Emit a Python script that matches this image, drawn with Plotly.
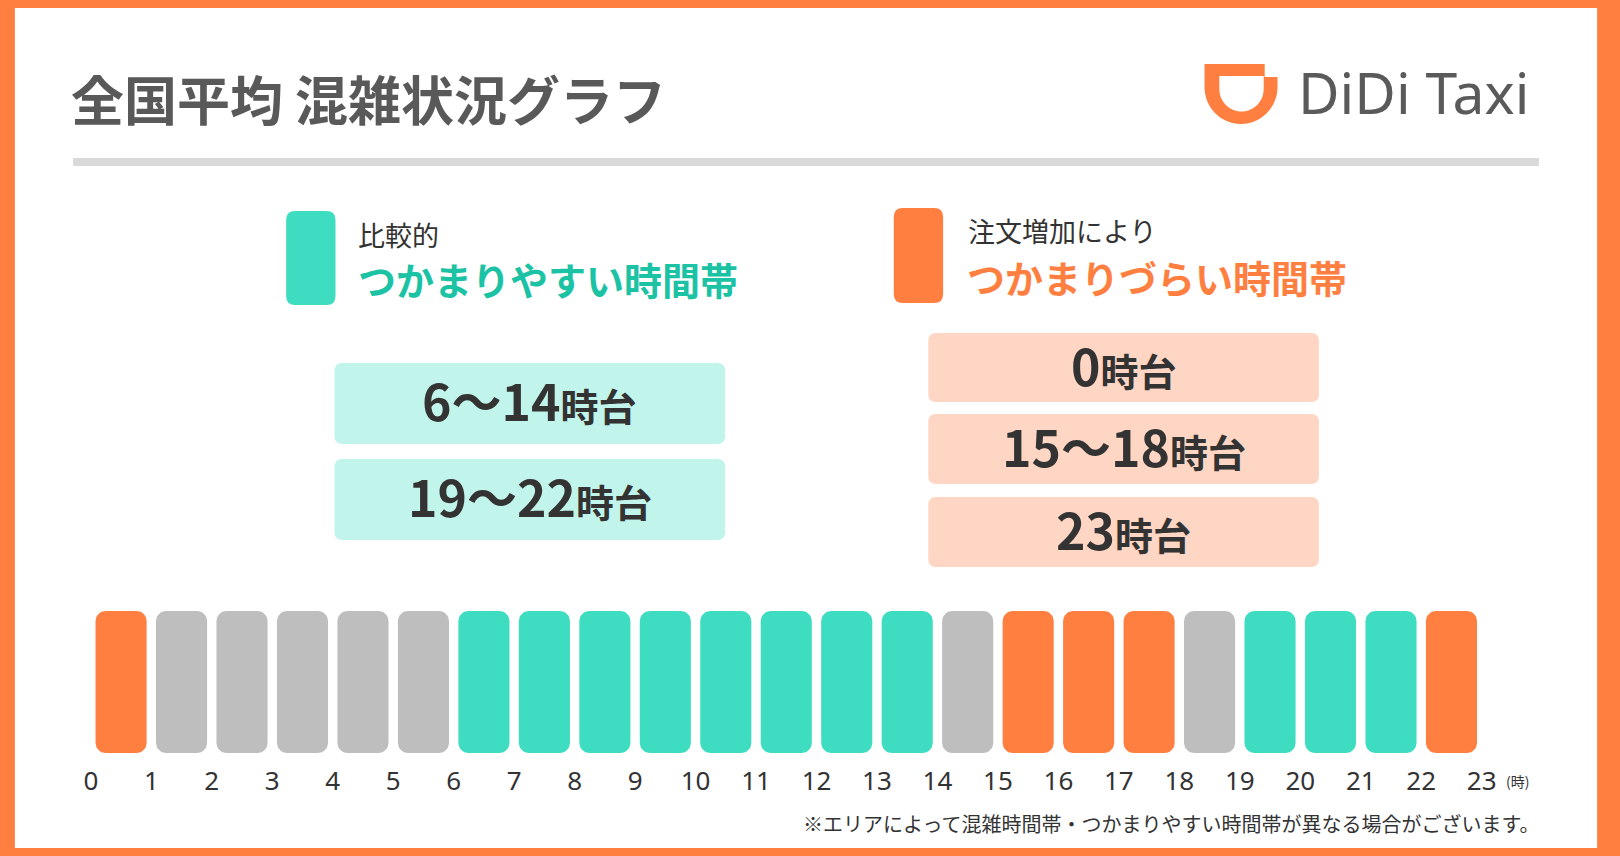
import math
import plotly.graph_objects as go

# ---------------- data ----------------
hour_labels = ["0", "1", "2", "3", "4", "5", "6", "7", "8", "9", "10", "11",
               "12", "13", "14", "15", "16", "17", "18", "19", "20", "21", "22", "23"]
slot_start = [0, 1, 2, 3, 4, 5, 6, 7, 8, 9, 10, 11, 12, 13, 14, 15, 16, 17, 18, 19, 20, 21, 22]
slot_status = ["busy", "idle", "idle", "idle", "idle", "idle",
               "easy", "easy", "easy", "easy", "easy", "easy", "easy", "easy",
               "idle", "busy", "busy", "busy", "idle", "easy", "easy", "easy", "busy"]
slot_level = [1, 1, 1, 1, 1, 1, 1, 1, 1, 1, 1, 1, 1, 1, 1, 1, 1, 1, 1, 1, 1, 1, 1]

easy_ranges = ["6〜14", "19〜22"]
busy_ranges = ["0", "15〜18", "23"]
range_suffix = "時台"

title_text = "全国平均 混雑状況グラフ"
easy_caption = ["比較的", "つかまりやすい時間帯"]
busy_caption = ["注文増加により", "つかまりづらい時間帯"]
unit_text = "(時)"
note_text = "※エリアによって混雑時間帯・つかまりやすい時間帯が異なる場合がございます。"
brand_text = "DiDi Taxi"

# ---------------- styles ----------------
W, H = 1620, 856
ORANGE = "#FF7F41"
GREEN = "#3EDDC1"
GREEN_TEXT = "#1BC2A4"
GRAY = "#BEBEBE"
LIGHT_GREEN = "#C1F4EA"
LIGHT_ORANGE = "#FFD6C3"
DARK = "#333333"
TITLE_GRAY = "#595959"
status_color = {"busy": ORANGE, "idle": GRAY, "easy": GREEN}
JP = "Noto Sans CJK JP"

# plot area (pixels) and bar geometry
AX_L, AX_R = 85, 1495
AX_T, AX_B = 611, 753
BAR_W = 0.845
BAR_R = 10  # corner radius, px


def X(px):
    return px / W


def Y(py):
    return 1 - py / H


def rrect(x0, y0, x1, y1, r):
    pts = [
        f"M{X(x0 + r)},{Y(y0)}",
        f"L{X(x1 - r)},{Y(y0)}",
        f"Q{X(x1)},{Y(y0)} {X(x1)},{Y(y0 + r)}",
        f"L{X(x1)},{Y(y1 - r)}",
        f"Q{X(x1)},{Y(y1)} {X(x1 - r)},{Y(y1)}",
        f"L{X(x0 + r)},{Y(y1)}",
        f"Q{X(x0)},{Y(y1)} {X(x0)},{Y(y1 - r)}",
        f"L{X(x0)},{Y(y0 + r)}",
        f"Q{X(x0)},{Y(y0)} {X(x0 + r)},{Y(y0)}",
        "Z",
    ]
    return " ".join(pts)


def pshape(path, color, layer="below"):
    return dict(type="path", xref="paper", yref="paper", path=path,
                fillcolor=color, line=dict(width=0), layer=layer)


K = 0.5523

shapes = []
# white card inside the orange frame
shapes.append(dict(type="rect", xref="paper", yref="paper", x0=X(8), x1=X(1612), y0=Y(848), y1=Y(8),
                   fillcolor="white", line=dict(width=0), layer="below"))
# divider
shapes.append(dict(type="rect", xref="paper", yref="paper", x0=X(67), x1=X(1553), y0=Y(166), y1=Y(158),
                   fillcolor="#D9D9D9", line=dict(width=0), layer="below"))
# legend swatches
shapes.append(pshape(rrect(283, 211, 333, 305, 9), GREEN))
shapes.append(pshape(rrect(899, 208, 949, 303, 9), ORANGE))
# range boxes
green_boxes = [(332, 363, 728, 444), (332, 459, 728, 540)]
orange_boxes = [(934, 333, 1330, 402), (934, 414, 1330, 484), (934, 497, 1330, 567)]
for b in green_boxes:
    shapes.append(pshape(rrect(*b, 8), LIGHT_GREEN))
for b in orange_boxes:
    shapes.append(pshape(rrect(*b, 8), LIGHT_ORANGE))

# logo
ro, cxo, ybo = 37, 1251, 124
yco = ybo - ro
outer = (f"M{X(1214)},{Y(64)} L{X(1275)},{Y(64)} L{X(1275)},{Y(77)} L{X(1288)},{Y(77)} "
         f"L{X(1288)},{Y(yco)} "
         f"C{X(1288)},{Y(yco + K * ro)} {X(cxo + K * ro)},{Y(ybo)} {X(cxo)},{Y(ybo)} "
         f"C{X(cxo - K * ro)},{Y(ybo)} {X(1214)},{Y(yco + K * ro)} {X(1214)},{Y(yco)} Z")
shapes.append(pshape(outer, ORANGE, "above"))
ri, cxi, ybi = 22.5, 1251.5, 111.5
yci = ybi - ri
inner = (f"M{X(1229)},{Y(76)} L{X(1274)},{Y(76)} L{X(1274)},{Y(yci)} "
         f"C{X(1274)},{Y(yci + K * ri)} {X(cxi + K * ri)},{Y(ybi)} {X(cxi)},{Y(ybi)} "
         f"C{X(cxi - K * ri)},{Y(ybi)} {X(1229)},{Y(yci + K * ri)} {X(1229)},{Y(yci)} Z")
shapes.append(pshape(inner, "white", "above"))

# ---------------- annotations ----------------
ann = []


def text(x, y, s, size, color=DARK, bold=False, xanchor="left", family=JP):
    ann.append(dict(xref="paper", yref="paper", x=X(x), y=Y(y), text=s, showarrow=False,
                    xanchor=xanchor, yanchor="middle",
                    font=dict(family=family, size=size, color=color, weight=700 if bold else 400)))


text(63, 98, title_text, 53, TITLE_GRAY, bold=True)
text(1307, 92, brand_text, 57, "#5A5A5A", family="Noto Sans")
text(354, 234, easy_caption[0], 27)
text(354, 278, easy_caption[1], 38, GREEN_TEXT, bold=True)
text(972, 231, busy_caption[0], 27)
text(971, 276, busy_caption[1], 38, ORANGE, bold=True)


def range_label(s):
    return f"{s}<span style='font-size:38px'>{range_suffix}</span>"


for s, b in zip(easy_ranges, green_boxes):
    text((b[0] + b[2]) / 2, (b[1] + b[3]) / 2 - 5, range_label(s), 50, DARK, bold=True, xanchor="center")
for s, b in zip(busy_ranges, orange_boxes):
    text((b[0] + b[2]) / 2, (b[1] + b[3]) / 2 - 4, range_label(s), 50, DARK, bold=True, xanchor="center")

text(1531, 781, unit_text, 14, DARK, xanchor="center")
text(1555, 823, note_text, 20, DARK, xanchor="right")

# ---------------- bars (rounded on all four corners) ----------------
rx = BAR_R / ((AX_R - AX_L) / 23)
ry = BAR_R / (AX_B - AX_T)
off = (1 - BAR_W) / 2


def bar_outline(x0, x1, y0, y1):
    xs, ys = [], []
    corners = [(x1 - rx, y1 - ry, 0, 90), (x0 + rx, y1 - ry, 90, 180),
               (x0 + rx, y0 + ry, 180, 270), (x1 - rx, y0 + ry, 270, 360)]
    for cx, cy, a0, a1 in corners:
        for k in range(9):
            a = math.radians(a0 + (a1 - a0) * k / 8)
            xs.append(cx + rx * math.cos(a))
            ys.append(cy + ry * math.sin(a))
    xs.append(xs[0])
    ys.append(ys[0])
    return xs, ys


fig = go.Figure()
for status, color in status_color.items():
    gx, gy = [], []
    for s, st, lv in zip(slot_start, slot_status, slot_level):
        if st != status:
            continue
        bx, by = bar_outline(s + off, s + off + BAR_W, 0, lv)
        gx += bx + [None]
        gy += by + [None]
    fig.add_trace(go.Scatter(x=gx, y=gy, mode="lines", fill="toself", fillcolor=color,
                             line=dict(width=0, color=color), hoverinfo="skip",
                             showlegend=False, cliponaxis=False, name=status))

fig.update_layout(
    width=W, height=H, margin=dict(l=0, r=0, t=0, b=0),
    paper_bgcolor=ORANGE, plot_bgcolor="rgba(0,0,0,0)",
    shapes=shapes, annotations=ann,
    xaxis=dict(domain=[X(AX_L), X(AX_R)], range=[0, 23],
               tickvals=list(range(len(hour_labels))), ticktext=hour_labels,
               showgrid=False, zeroline=False, showline=False, ticks="",
               ticklabelstandoff=10, fixedrange=True,
               tickfont=dict(family="Noto Sans", size=26, color=DARK)),
    yaxis=dict(domain=[Y(AX_B), Y(AX_T)], range=[0, 1], visible=False, fixedrange=True),
)

fig.write_html("out.html", config={"displayModeBar": False},
               post_script="document.body.style.margin='0';document.body.style.overflow='hidden';")
